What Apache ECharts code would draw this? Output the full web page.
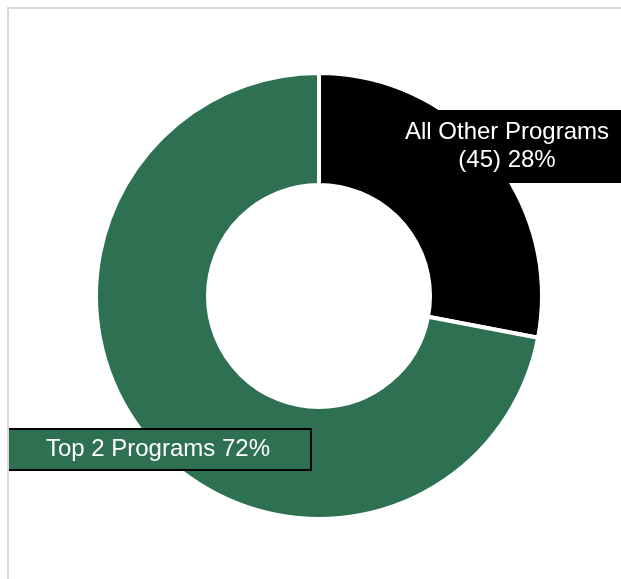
<!DOCTYPE html>
<html>
<head>
<meta charset="utf-8">
<script src="https://cdn.jsdelivr.net/npm/echarts@6/dist/echarts.min.js"></script>
<style>
  html, body { margin: 0; padding: 0; background: #ffffff; }
  #chart { width: 621px; height: 579px; }
</style>
</head>
<body>
<div id="chart"></div>
<script>
// Program share breakdown
const categories = ['All Other Programs', 'Top 2 Programs'];
const shares = [28, 72];
const counts = [45, null];
const sliceColors = ['#000000', '#2d7152'];

const labelText = (i) => {
  if (counts[i] != null) {
    return categories[i] + '\n(' + counts[i] + ') ' + shares[i] + '%';
  }
  return categories[i] + ' ' + shares[i] + '%';
};

const labelBoxes = [
  { backgroundColor: '#000000', borderColor: '#000000', borderWidth: 0, padding: [9, 22, 8, 22], lineHeight: 28 },
  { backgroundColor: '#2d7152', borderColor: '#000000', borderWidth: 2, padding: [6, 40, 6, 200], lineHeight: 27 }
];

const labelSpots = [
  { x: 507, y: 146.5, align: 'center', verticalAlign: 'middle' },
  { x: 310, y: 449.5, align: 'right', verticalAlign: 'middle' }
];

const chart = echarts.init(document.getElementById('chart'), null, { renderer: 'canvas' });

chart.setOption({
  animation: false,
  backgroundColor: '#ffffff',
  graphic: {
    elements: [
      { type: 'rect', z: 100, silent: true, shape: { x: 0, y: 0, width: 7, height: 579 }, style: { fill: '#ffffff' } },
      { type: 'rect', z: 101, silent: true, shape: { x: 8, y: 8, width: 700, height: 700 }, style: { fill: 'none', stroke: '#d9d9d9', lineWidth: 2 } }
    ]
  },
  series: [{
    type: 'pie',
    center: [319, 296],
    radius: [111, 223],
    startAngle: 90,
    clockwise: true,
    avoidLabelOverlap: false,
    emphasis: { disabled: true },
    itemStyle: { borderColor: '#ffffff', borderWidth: 4 },
    labelLine: { show: false },
    label: {
      show: true,
      position: 'outside',
      color: '#ffffff',
      fontFamily: 'Liberation Sans, Arial, sans-serif',
      fontSize: 24,
      formatter: (p) => labelText(p.dataIndex)
    },
    labelLayout: (p) => labelSpots[p.dataIndex],
    data: categories.map((name, i) => ({
      name: name,
      value: shares[i],
      itemStyle: { color: sliceColors[i] },
      label: labelBoxes[i]
    }))
  }]
});
</script>
</body>
</html>
